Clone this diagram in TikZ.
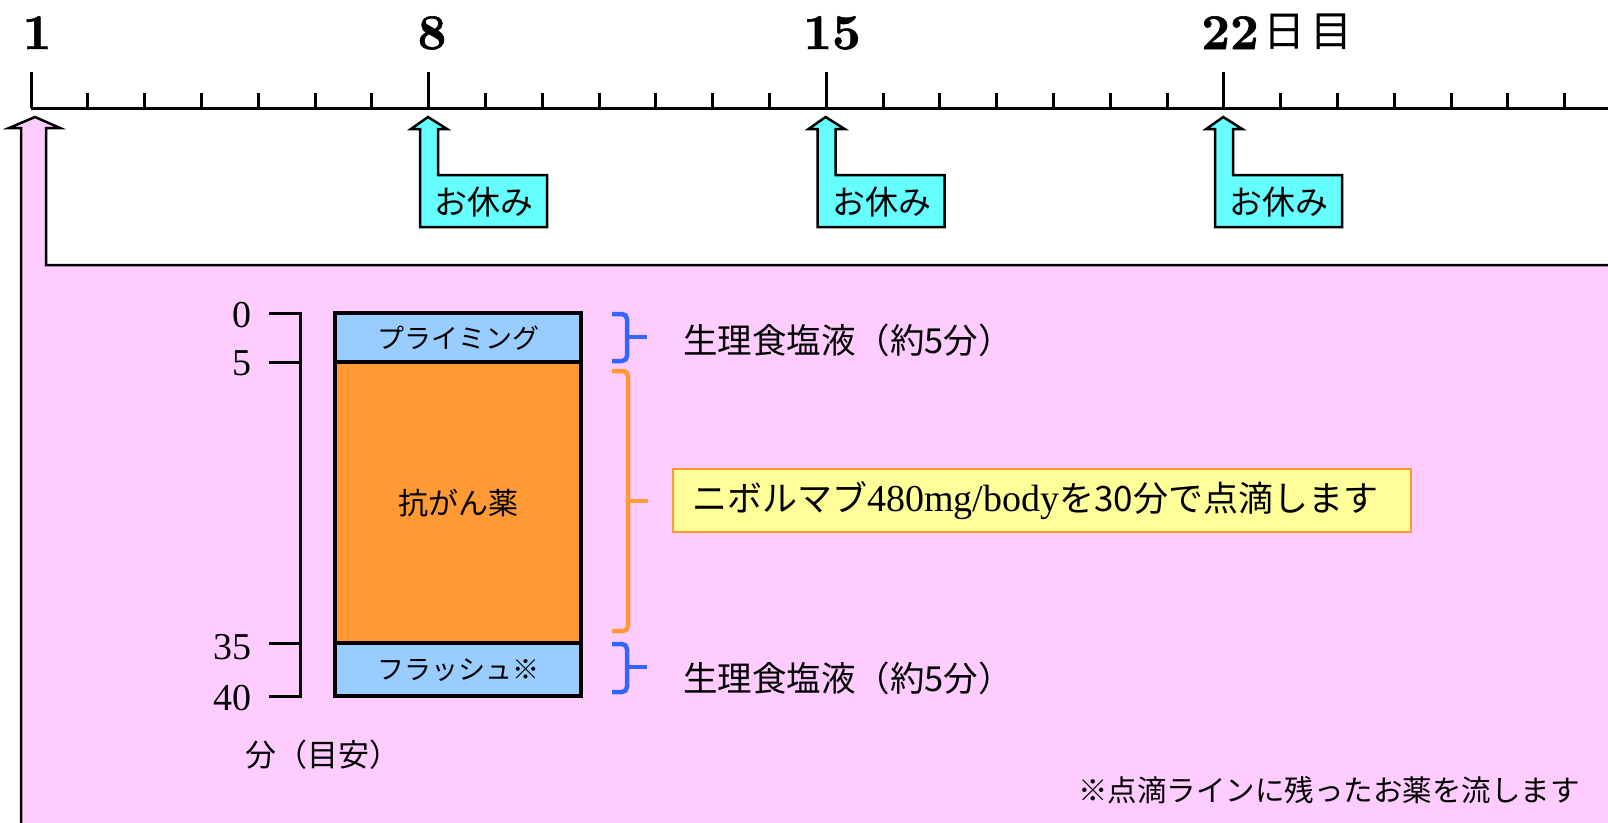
\documentclass[tikz,border=0pt]{standalone}
\usepackage{fontspec}
\newfontfamily\jp{Noto Sans CJK JP}
\newfontfamily\tms{Liberation Serif}
\newfontfamily\heavy{lmroman10-bold.otf}[FakeBold=1.2]
\newcommand{\setfs}[1]{\fontsize{#1}{#1}\selectfont}
\definecolor{pinkbg}{HTML}{FFCCFF}
\definecolor{cyanbox}{HTML}{66FFFF}
\definecolor{lblue}{HTML}{99CCFF}
\definecolor{orng}{HTML}{FF9933}
\definecolor{ylw}{HTML}{FFFF99}
\definecolor{bbrace}{HTML}{3366FF}
\tikzset{
  axisline/.style={line width=3pt, black},
  pinkarrow/.style={fill=pinkbg, draw=black, line width=2.5pt, line join=miter},
  restarrow/.style={fill=cyanbox, draw=black, line width=2.5pt, line join=miter},
  segbox/.style={draw=black, line width=3.5pt},
  bracebl/.style={draw=bbrace, line width=4.5pt, rounded corners=5pt},
  braceor/.style={draw=orng, line width=4.5pt, rounded corners=5pt},
  daylabel/.style={inner sep=0pt, anchor=base, font=\heavy\setfs{50}},
  minlabel/.style={inner sep=0pt, anchor=east, font=\tms\setfs{38}},
  jptext/.style={inner sep=0pt, font=\jp\setfs{#1}},
}
\begin{document}
\begin{tikzpicture}[x=1pt,y=-1pt]
\useasboundingbox (0,0) rectangle (1608,822);
% pink big arrow / area
\filldraw[pinkarrow] (21,830) -- (21,128) -- (9,128) -- (35,117) -- (60,128) -- (46,128) -- (46,265) -- (1615,265) -- (1615,830) -- cycle;
% axis
\draw[axisline] (31,108) -- (1610,108);
\foreach \d in {1,...,28}{
  \pgfmathsetmacro{\xx}{31+(\d-1)*56.8}
  \ifnum\d=1 \draw[axisline] (\xx,72) -- (\xx,108);
  \else\ifnum\d=8 \draw[axisline] (\xx,72) -- (\xx,108);
  \else\ifnum\d=15 \draw[axisline] (\xx,72) -- (\xx,108);
  \else\ifnum\d=22 \draw[axisline] (\xx,72) -- (\xx,108);
  \else \draw[axisline] (\xx,93) -- (\xx,108);
  \fi\fi\fi\fi
}
\node[daylabel] (d1) at (37,49) {1};
\node[daylabel] (d8) at (432,49) {8};
\node[daylabel] (d15) at (832,49) {15};
\node[daylabel] (d22) at (1230,49) {22};
\node[jptext=42] (hi) at (1284,32) {日};
\node[jptext=42] (me) at (1331,32) {目};
% rest arrows
\foreach \X/\nm in {428/r8, 825.6/r15, 1223.2/r22}{
  \filldraw[restarrow] (\X-8,227) -- (\X-8,129) -- (\X-17,129) -- (\X,117) -- (\X+19,129) -- (\X+10,129) -- (\X+10,175) -- (\X+119,175) -- (\X+119,227) -- cycle;
  \node[jptext=33] (\nm) at (\X+56,202) {お休み};
}
% minute scale
\draw[axisline] (269,313) -- (300,313) -- (300,696) -- (269,696);
\draw[axisline] (269,362) -- (300,362);
\draw[axisline] (269,643) -- (300,643);
\node[minlabel] (m0) at (252,315) {0};
\node[minlabel] (m5) at (252,363) {5};
\node[minlabel] (m35) at (252,647) {35};
\node[minlabel] (m40) at (252,698) {40};
\node[jptext=31] (unit) at (323,755) {分（目安）};
% segment boxes
\filldraw[segbox, fill=lblue] (335,313) rectangle (581,362);
\filldraw[segbox, fill=orng] (335,362) rectangle (581,643);
\filldraw[segbox, fill=lblue] (335,643) rectangle (581,696);
\node[jptext=27] (prime) at (458,338) {プライミング};
\node[jptext=30] (drug) at (458,503) {抗がん薬};
\node[jptext=27] (flush) at (458,670) {フラッシュ※};
% braces
\draw[bracebl] (612,314) -- (627,314) -- (627,361) -- (612,361);
\draw[bbrace, line width=4.5pt] (627,337) -- (647,337);
\draw[braceor] (612,371) -- (628,371) -- (628,631) -- (612,631);
\draw[orng, line width=4.5pt] (628,501) -- (648,501);
\draw[bracebl] (612,644) -- (627,644) -- (627,692) -- (612,692);
\draw[bbrace, line width=4.5pt] (627,667) -- (647,667);
\node[jptext=34.5, anchor=west] (saline1) at (683,340) {生理食塩液（約5分）};
\node[jptext=34.5, anchor=west] (saline2) at (683,678) {生理食塩液（約5分）};
% yellow box
\filldraw[fill=ylw, draw=orng, line width=1.5pt] (673,469) rectangle (1411,532);
\node[inner sep=0pt, anchor=west] (dose) at (692,501) {\jp\setfs{35}ニボルマブ{\tms\setfs{38}480mg/body}を30分で点滴します};
% note
\node[jptext=29.5] (note) at (1329,790) {※点滴ラインに残ったお薬を流します};
\end{tikzpicture}
\end{document}
